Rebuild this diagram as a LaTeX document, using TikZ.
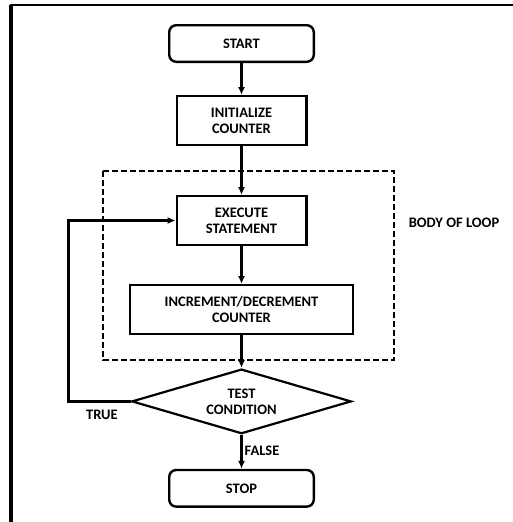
\documentclass[tikz,border=0pt]{standalone}
\usepackage{fontspec}
\setmainfont{Carlito}
\usetikzlibrary{arrows.meta, positioning, shapes.geometric}

\begin{document}
\begin{tikzpicture}[
  x=1pt, y=-1pt,
  node distance=32pt,
  every node/.style={font=\fontsize{14.5}{16}\selectfont\bfseries},
  terminal/.style={draw, line width=2.4pt, rounded corners=7pt, align=center, minimum width=144.6pt, minimum height=36.6pt},
  stepbox/.style={draw, line width=2.4pt, align=center, minimum width=129.6pt, minimum height=48.6pt, inner sep=2pt},
  decision/.style={draw, line width=2.2pt, diamond, aspect=3.3, align=center, minimum width=219.6pt, minimum height=64.6pt, inner sep=0pt},
  lbl/.style={align=center},
  flow/.style={line width=2.4pt, -{Latex[length=8pt, width=7pt]}}
]
\useasboundingbox (0,0) rectangle (513,522);
% frame of the page
\draw[line width=2pt] (10,5) -- (513,5);
\draw[line width=4pt] (11,5) -- (11,522);

\node[terminal] (start) at (241.5,43.5) {START};
\node[stepbox, below=of start] (init) {INITIALIZE\\COUNTER};
\node[stepbox, below=49pt of init] (exec) {EXECUTE\\STATEMENT};
\node[stepbox, below=38pt of exec, minimum width=222.6pt] (incr) {INCREMENT/DECREMENT\\COUNTER};
\node[decision, below=33pt of incr] (test) {TEST\\CONDITION};
\node[terminal, below=34pt of test] (stop) {STOP};

% body of loop
\draw[line width=2.2pt, dash pattern=on 6pt off 3pt] (103,171) rectangle (394,360);
\node[lbl] (body) at (454,223) {BODY OF LOOP};

\draw[flow] (start) -- (init);
\draw[flow] (init) -- (exec);
\draw[flow] (exec) -- (incr);
\draw[flow] (incr) -- (test);
\draw[flow] (test) -- node[lbl, right, inner sep=2pt, yshift=1pt]{FALSE} (stop);
\draw[flow] (test.west) -- ++(-62,0) |- (exec.west);
\node[lbl] (true) at (102,415) {TRUE};
\end{tikzpicture}
\end{document}
